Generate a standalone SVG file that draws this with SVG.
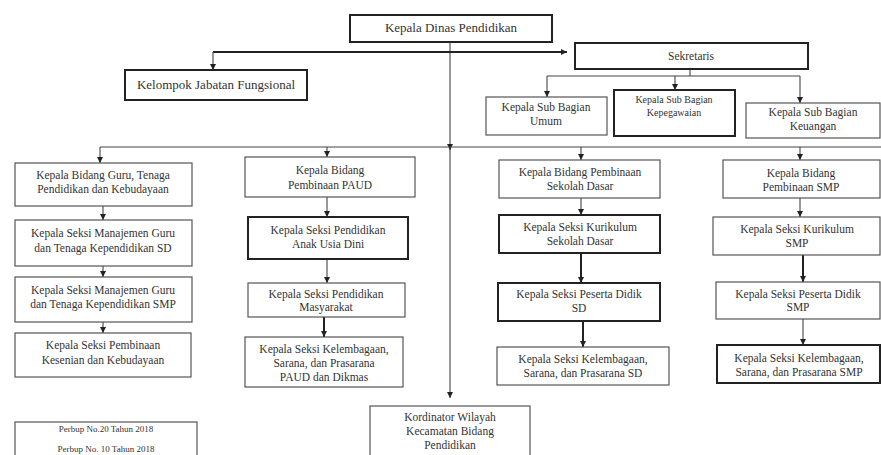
<svg xmlns="http://www.w3.org/2000/svg" width="881" height="455" viewBox="0 0 881 455">
<defs>
<style>
.b{fill:#fff;stroke:#555;stroke-width:1.2}
.bb{fill:#fff;stroke:#222;stroke-width:2}
.t{font-family:"Liberation Serif","Times New Roman",serif;font-size:11.5px;fill:#333;text-anchor:middle}
.tl{font-size:13px}
.ts{font-size:10px}
.c{fill:none;stroke:#444;stroke-width:1.1}
.cb{fill:none;stroke:#222;stroke-width:2}
</style>
<marker id="ah" viewBox="0 0 10 10" refX="10" refY="5" markerWidth="6" markerHeight="6" orient="auto" markerUnits="userSpaceOnUse"><path d="M0,0 L10,5 L0,10 z" fill="#222"/></marker>
</defs>
<rect width="881" height="455" fill="#fff"/>
<g id="connectors">
<path class="c" d="M450,42 V398" marker-end="url(#ah)"/>
<path class="c" d="M450,144 V150" marker-end="url(#ah)"/>
<path class="cb" d="M213,52 H567" marker-end="url(#ah)"/>
<path class="c" d="M213,52 V70" marker-end="url(#ah)"/>
<path class="c" d="M690,69 V76"/>
<path class="c" d="M547,76 H800"/>
<path class="c" d="M547,76 V97" marker-end="url(#ah)"/>
<path class="c" d="M675,76 V90" marker-end="url(#ah)"/>
<path class="c" d="M800,76 V103" marker-end="url(#ah)"/>
<path class="c" d="M100,147 H881"/>
<path class="c" d="M100,147 V163" marker-end="url(#ah)"/>
<path class="c" d="M327,147 V157" marker-end="url(#ah)"/>
<path class="c" d="M581,147 V160" marker-end="url(#ah)"/>
<path class="c" d="M800,147 V160" marker-end="url(#ah)"/>
<path class="c" d="M103,206 V220" marker-end="url(#ah)"/>
<path class="c" d="M103,266 V277" marker-end="url(#ah)"/>
<path class="c" d="M103,322 V333" marker-end="url(#ah)"/>
<path class="c" d="M327,197 V217" marker-end="url(#ah)"/>
<path class="c" d="M327,259 V283" marker-end="url(#ah)"/>
<path class="cb" d="M324,317 V337" marker-end="url(#ah)"/>
<path class="c" d="M581,198 V215" marker-end="url(#ah)"/>
<path class="cb" d="M581,253 V283" marker-end="url(#ah)"/>
<path class="cb" d="M583,321 V347" marker-end="url(#ah)"/>
<path class="c" d="M800,198 V217" marker-end="url(#ah)"/>
<path class="cb" d="M803,255 V282" marker-end="url(#ah)"/>
<path class="c" d="M803,319 V345" marker-end="url(#ah)"/>
</g>
<g id="kepala-dinas"><rect class="bb" x="350" y="15" width="202" height="27"/><text class="t tl" x="451" y="32">Kepala Dinas Pendidikan</text></g>
<g id="kelompok"><rect class="bb" x="125" y="70" width="182" height="30"/><text class="t tl" x="216" y="89">Kelompok Jabatan Fungsional</text></g>
<g id="sekretaris"><rect class="bb" x="575" y="43" width="233" height="26"/><text class="t" x="691" y="60">Sekretaris</text></g>
<g id="sub-umum"><rect class="b" x="486" y="97" width="121" height="38"/><text class="t" x="546" y="111">Kepala Sub Bagian</text><text class="t" x="546" y="125">Umum</text></g>
<g id="sub-kepegawaian"><rect class="bb" x="614" y="90" width="121" height="46"/><text class="t ts" x="674" y="103">Kepala Sub Bagian</text><text class="t ts" x="674" y="116">Kepegawaian</text></g>
<g id="sub-keuangan"><rect class="b" x="746" y="103" width="134" height="35"/><text class="t" x="813" y="116">Kepala Sub Bagian</text><text class="t" x="813" y="130">Keuangan</text></g>
<g id="bid-guru"><rect class="b" x="15" y="163" width="177" height="43"/><text class="t" x="103" y="179">Kepala Bidang Guru, Tenaga</text><text class="t" x="103" y="193">Pendidikan dan Kebudayaan</text></g>
<g id="seksi-guru-sd"><rect class="b" x="15" y="220" width="177" height="46"/><text class="t" x="103" y="237">Kepala Seksi Manajemen Guru</text><text class="t" x="103" y="252">dan Tenaga Kependidikan SD</text></g>
<g id="seksi-guru-smp"><rect class="b" x="15" y="277" width="177" height="45"/><text class="t" x="103" y="294">Kepala Seksi Manajemen Guru</text><text class="t" x="103" y="308">dan Tenaga Kependidikan SMP</text></g>
<g id="seksi-kesenian"><rect class="b" x="15" y="333" width="176" height="44"/><text class="t" x="103" y="349">Kepala Seksi Pembinaan</text><text class="t" x="103" y="364">Kesenian dan Kebudayaan</text></g>
<g id="bid-paud"><rect class="b" x="245" y="157" width="170" height="40"/><text class="t" x="330" y="174">Kepala Bidang</text><text class="t" x="330" y="189">Pembinaan PAUD</text></g>
<g id="seksi-paud"><rect class="bb" x="248" y="217" width="160" height="42"/><text class="t" x="328" y="234">Kepala Seksi Pendidikan</text><text class="t" x="328" y="248">Anak Usia Dini</text></g>
<g id="seksi-masyarakat"><rect class="b" x="248" y="283" width="157" height="34"/><text class="t" x="326" y="298">Kepala Seksi Pendidikan</text><text class="t" x="326" y="311">Masyarakat</text></g>
<g id="seksi-kelembagaan-paud"><rect class="b" x="245" y="337" width="158" height="50"/><text class="t" x="324" y="353">Kepala Seksi Kelembagaan,</text><text class="t" x="324" y="367">Sarana, dan Prasarana</text><text class="t" x="324" y="381">PAUD dan Dikmas</text></g>
<g id="bid-sd"><rect class="b" x="499" y="160" width="161" height="38"/><text class="t" x="580" y="176">Kepala Bidang Pembinaan</text><text class="t" x="580" y="190">Sekolah Dasar</text></g>
<g id="seksi-kurikulum-sd"><rect class="bb" x="499" y="215" width="161" height="38"/><text class="t" x="580" y="231">Kepala Seksi Kurikulum</text><text class="t" x="580" y="245">Sekolah Dasar</text></g>
<g id="seksi-peserta-sd"><rect class="bb" x="498" y="283" width="162" height="38"/><text class="t" x="579" y="298">Kepala Seksi Peserta Didik</text><text class="t" x="579" y="312">SD</text></g>
<g id="seksi-kelembagaan-sd"><rect class="b" x="497" y="347" width="172" height="38"/><text class="t" x="583" y="363">Kepala Seksi Kelembagaan,</text><text class="t" x="583" y="377">Sarana, dan Prasarana SD</text></g>
<g id="bid-smp"><rect class="b" x="723" y="160" width="157" height="38"/><text class="t" x="801" y="177">Kepala Bidang</text><text class="t" x="801" y="191">Pembinaan SMP</text></g>
<g id="seksi-kurikulum-smp"><rect class="b" x="713" y="217" width="167" height="38"/><text class="t" x="797" y="233">Kepala Seksi Kurikulum</text><text class="t" x="797" y="247">SMP</text></g>
<g id="seksi-peserta-smp"><rect class="b" x="716" y="282" width="164" height="37"/><text class="t" x="798" y="298">Kepala Seksi Peserta Didik</text><text class="t" x="798" y="311">SMP</text></g>
<g id="seksi-kelembagaan-smp"><rect class="bb" x="717" y="345" width="163" height="38"/><text class="t" x="799" y="362">Kepala Seksi Kelembagaan,</text><text class="t" x="799" y="376">Sarana, dan Prasarana SMP</text></g>
<g id="korwil"><rect class="b" x="370" y="406" width="160" height="52"/><text class="t" x="450" y="421">Kordinator Wilayah</text><text class="t" x="450" y="435">Kecamatan Bidang</text><text class="t" x="450" y="449">Pendidikan</text></g>
<g id="legend"><rect class="b" x="15" y="422" width="182" height="40"/><text class="t" x="106" y="432" style="font-size:9px">Perbup No.20 Tahun 2018</text><text class="t" x="106" y="452" style="font-size:9px">Perbup No. 10 Tahun 2018</text></g>
</svg>
